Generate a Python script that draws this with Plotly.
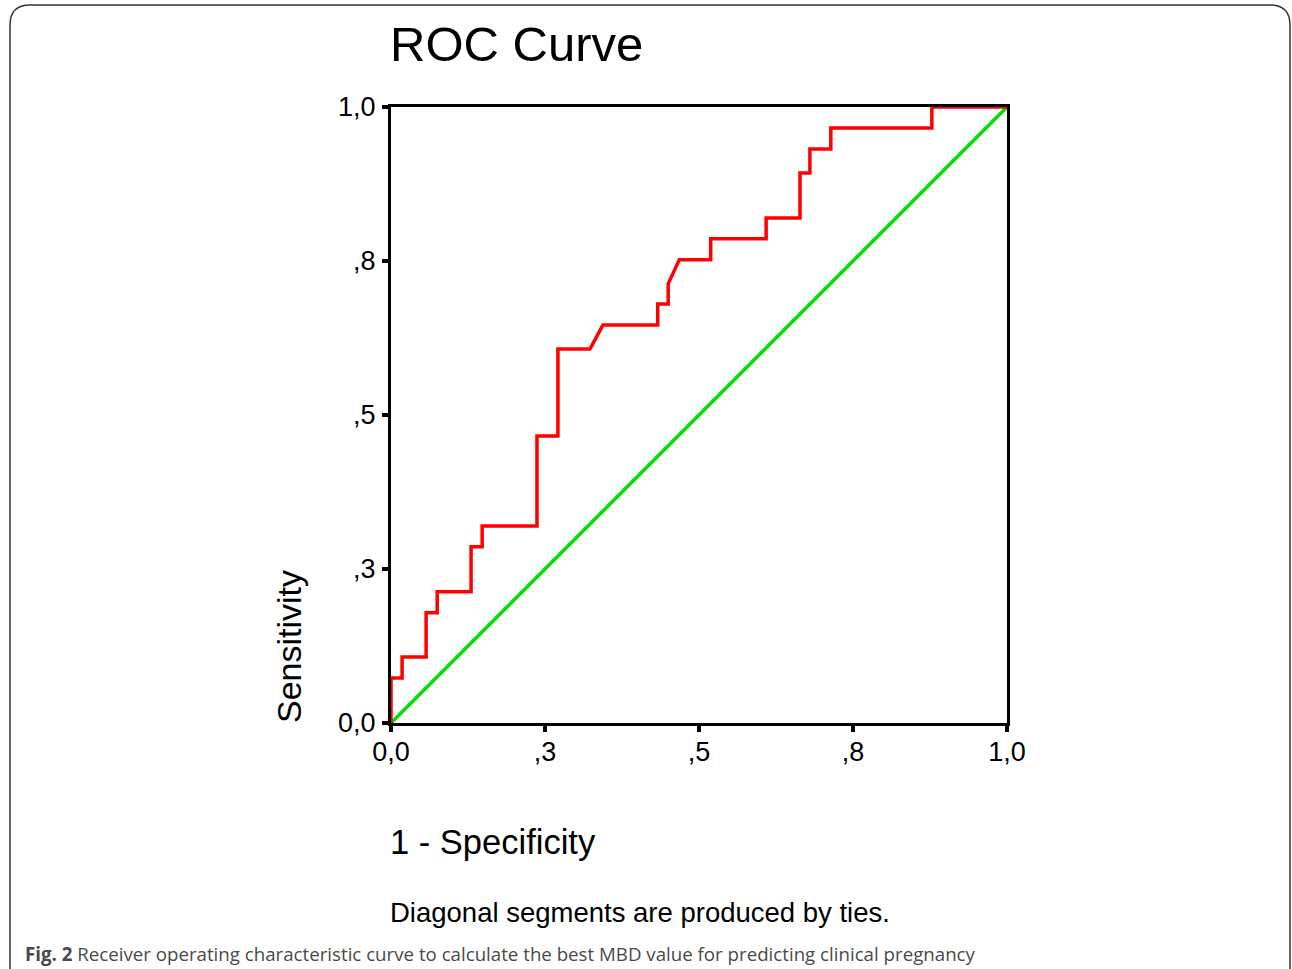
import plotly.graph_objects as go

# ROC curve vertices (1 - specificity, sensitivity)
fpr = [0.0, 0.0, 0.018, 0.018, 0.057, 0.057, 0.075, 0.075, 0.130, 0.130, 0.148, 0.148,
       0.237, 0.237, 0.271, 0.271, 0.323, 0.344, 0.433, 0.433, 0.450, 0.450, 0.468,
       0.519, 0.519, 0.609, 0.609, 0.664, 0.664, 0.680, 0.680, 0.714, 0.714, 0.878,
       0.878, 1.0]
tpr = [0.0, 0.073, 0.073, 0.107, 0.107, 0.179, 0.179, 0.213, 0.213, 0.286, 0.286, 0.320,
       0.320, 0.466, 0.466, 0.607, 0.607, 0.646, 0.646, 0.680, 0.680, 0.713, 0.752,
       0.752, 0.786, 0.786, 0.820, 0.820, 0.893, 0.893, 0.932, 0.932, 0.966, 0.966,
       1.0, 1.0]
ref_x = [0.0, 1.0]
ref_y = [0.0, 1.0]

tick_vals = [0.0, 0.25, 0.5, 0.75, 1.0]
tick_text = ["0,0", ",3", ",5", ",8", "1,0"]

W, H = 1292, 969
L, R, T, B = 391, 1007, 107, 723
PW, PH = R - L, B - T


def px(x):
    return (x - L) / PW


def py(y):
    return (B - y) / PH


SPSS = "Liberation Sans, Arial, sans-serif"

fig = go.Figure()
fig.add_trace(go.Scatter(x=ref_x, y=ref_y, mode="lines",
                         line=dict(color="#00e000", width=3.5), hoverinfo="skip"))
fig.add_trace(go.Scatter(x=fpr, y=tpr, mode="lines",
                         line=dict(color="#ff0000", width=3.5), hoverinfo="skip"))

axis_common = dict(range=[0, 1], tickvals=tick_vals, ticktext=tick_text,
                   showgrid=False, zeroline=False, showline=True, mirror=True,
                   linecolor="black", linewidth=3, ticks="outside", ticklen=6,
                   tickwidth=4, tickcolor="black",
                   tickfont=dict(family=SPSS, size=27, color="black"),
                   layer="below traces", fixedrange=True)

fig.update_layout(
    width=W, height=H,
    margin=dict(l=L, r=W - R, t=T, b=H - B, pad=0),
    paper_bgcolor="white", plot_bgcolor="white",
    showlegend=False,
    xaxis=dict(**axis_common, ticklabelstandoff=-3),
    yaxis=dict(**axis_common, ticklabelstandoff=1),
)

# border (rounded rectangle around the figure)
x0, x1, y0, rr = 10, 1290, 5, 20
path = (f"M {px(x0)},{py(H + 5)} L {px(x0)},{py(y0 + rr)} "
        f"Q {px(x0)},{py(y0)} {px(x0 + rr)},{py(y0)} "
        f"L {px(x1 - rr)},{py(y0)} Q {px(x1)},{py(y0)} {px(x1)},{py(y0 + rr)} "
        f"L {px(x1)},{py(H + 5)}")
fig.add_shape(type="path", path=path, xref="paper", yref="paper",
              line=dict(color="#333333", width=1.5), layer="below")

annos = [
    dict(text="ROC Curve", x=px(388), y=py(44), xanchor="left", yanchor="middle",
         font=dict(family=SPSS, size=49, color="black")),
    dict(text="Sensitivity", x=px(289), y=py(647), xanchor="center", yanchor="middle",
         textangle=-90, font=dict(family=SPSS, size=34, color="black")),
    dict(text="1 - Specificity", x=px(388), y=py(842), xanchor="left", yanchor="middle",
         font=dict(family=SPSS, size=34.5, color="black")),
    dict(text="Diagonal segments are produced by ties.", x=px(388), y=py(912),
         xanchor="left", yanchor="middle",
         font=dict(family=SPSS, size=27.5, color="black")),
    dict(text="<b>Fig. 2</b> Receiver operating characteristic curve to calculate the best MBD value for predicting clinical pregnancy",
         x=px(23), y=py(953), xanchor="left", yanchor="middle",
         font=dict(family="Open Sans, Noto Sans, sans-serif", size=18.7, color="#4a4a4a")),
]
for a in annos:
    fig.add_annotation(xref="paper", yref="paper", showarrow=False, **a)

fig.write_html("out.html", config={"displayModeBar": False},
               post_script="document.body.style.margin='0';document.body.style.overflow='hidden';")
